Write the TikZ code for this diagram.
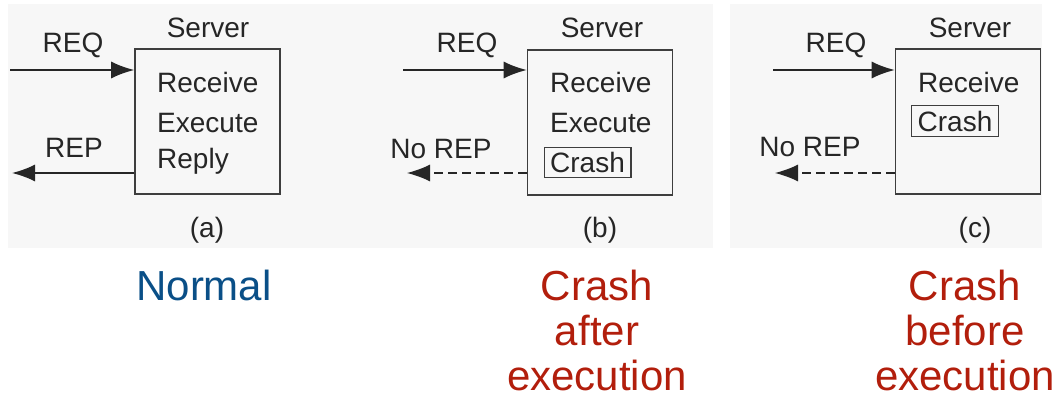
\documentclass[tikz,border=0pt]{standalone}
\usepackage{fontspec}
\setmainfont{Liberation Sans}
\usetikzlibrary{positioning,arrows.meta}
\definecolor{panelgray}{RGB}{247,247,247}
\definecolor{boxgray}{RGB}{62,62,62}
\definecolor{normalblue}{RGB}{10,79,135}
\definecolor{crashred}{RGB}{178,30,12}

\begin{document}
\begin{tikzpicture}[x=1pt, y=1pt,
    every node/.style={font=\fontsize{28}{32}\selectfont, inner sep=0pt, text=black!85},
    server/.style={draw=boxgray, line width=1.6pt, minimum width=145pt, minimum height=145pt},
    crashbox/.style={draw=boxgray, line width=1.3pt, inner xsep=6pt, inner ysep=5pt},
    msg/.style={line width=1.6pt, draw=black!85, -{Latex[length=23pt,width=17pt]}},
    lost/.style={msg, line width=1.3pt, dash pattern=on 9pt off 5pt},
    verdict/.style={align=center, anchor=north, font=\fontsize{42}{45}\selectfont}]
    \useasboundingbox (0,0) rectangle (1058,400);
    \fill[panelgray] (8,152) rectangle (713,396);
    \fill[panelgray] (730,152) rectangle (1042,396);

    % (a) normal
    \node[server] (srvA) at (207.5,278.5) {};
    \node[anchor=base] (titleA) at (208,362) {Server};
    \node[anchor=base west] (recvA) at (157,308) {Receive};
    \node[anchor=base west] (execA) at (157,268) {Execute};
    \node[anchor=base west] (replyA) at (157,232) {Reply};
    \coordinate (inA) at (10,330);
    \coordinate (outA) at (12,227);
    \draw[msg] (inA) -- (inA -| srvA.west);
    \draw[msg] (outA -| srvA.west) -- (outA);
    \node[anchor=base] (reqA) at (73,347) {REQ};
    \node[anchor=base] (repA) at (74,243) {REP};
    \node[anchor=base] (capA) at (207,163) {(a)};
    \node[verdict, text=normalblue] (verA) at (204,130) {Normal};

    % (b) crash after execution
    \node[server] (srvB) at (600,277.5) {};
    \node[anchor=base] (titleB) at (602,362) {Server};
    \node[anchor=base west] (recvB) at (550,308) {Receive};
    \node[anchor=base west] (execB) at (550,268) {Execute};
    \node[crashbox] (crashB) at (587.5,237.5) {Crash};
    \coordinate (inB) at (403,330);
    \coordinate (outB) at (407,227);
    \draw[msg] (inB) -- (inB -| srvB.west);
    \draw[lost] (outB -| srvB.west) -- (outB);
    \node[anchor=base] (reqB) at (467,347) {REQ};
    \node[anchor=base] (norepB) at (441,242) {No REP};
    \node[anchor=base] (capB) at (600,163) {(b)};
    \node[verdict, text=crashred] (verB) at (597,130) {Crash\\after\\execution};

    % (c) crash before execution
    \node[server] (srvC) at (968,278.5) {};
    \node[anchor=base] (titleC) at (970,362) {Server};
    \node[anchor=base west] (recvC) at (918,308) {Receive};
    \node[crashbox] (crashC) at (955,279) {Crash};
    \coordinate (inC) at (773,330);
    \coordinate (outC) at (775,227);
    \draw[msg] (inC) -- (inC -| srvC.west);
    \draw[lost] (outC -| srvC.west) -- (outC);
    \node[anchor=base] (reqC) at (836,347) {REQ};
    \node[anchor=base] (norepC) at (810,244) {No REP};
    \node[anchor=base] (capC) at (975,163) {(c)};
    \node[verdict, text=crashred] (verC) at (965,130) {Crash\\before\\execution};
\end{tikzpicture}
\end{document}
